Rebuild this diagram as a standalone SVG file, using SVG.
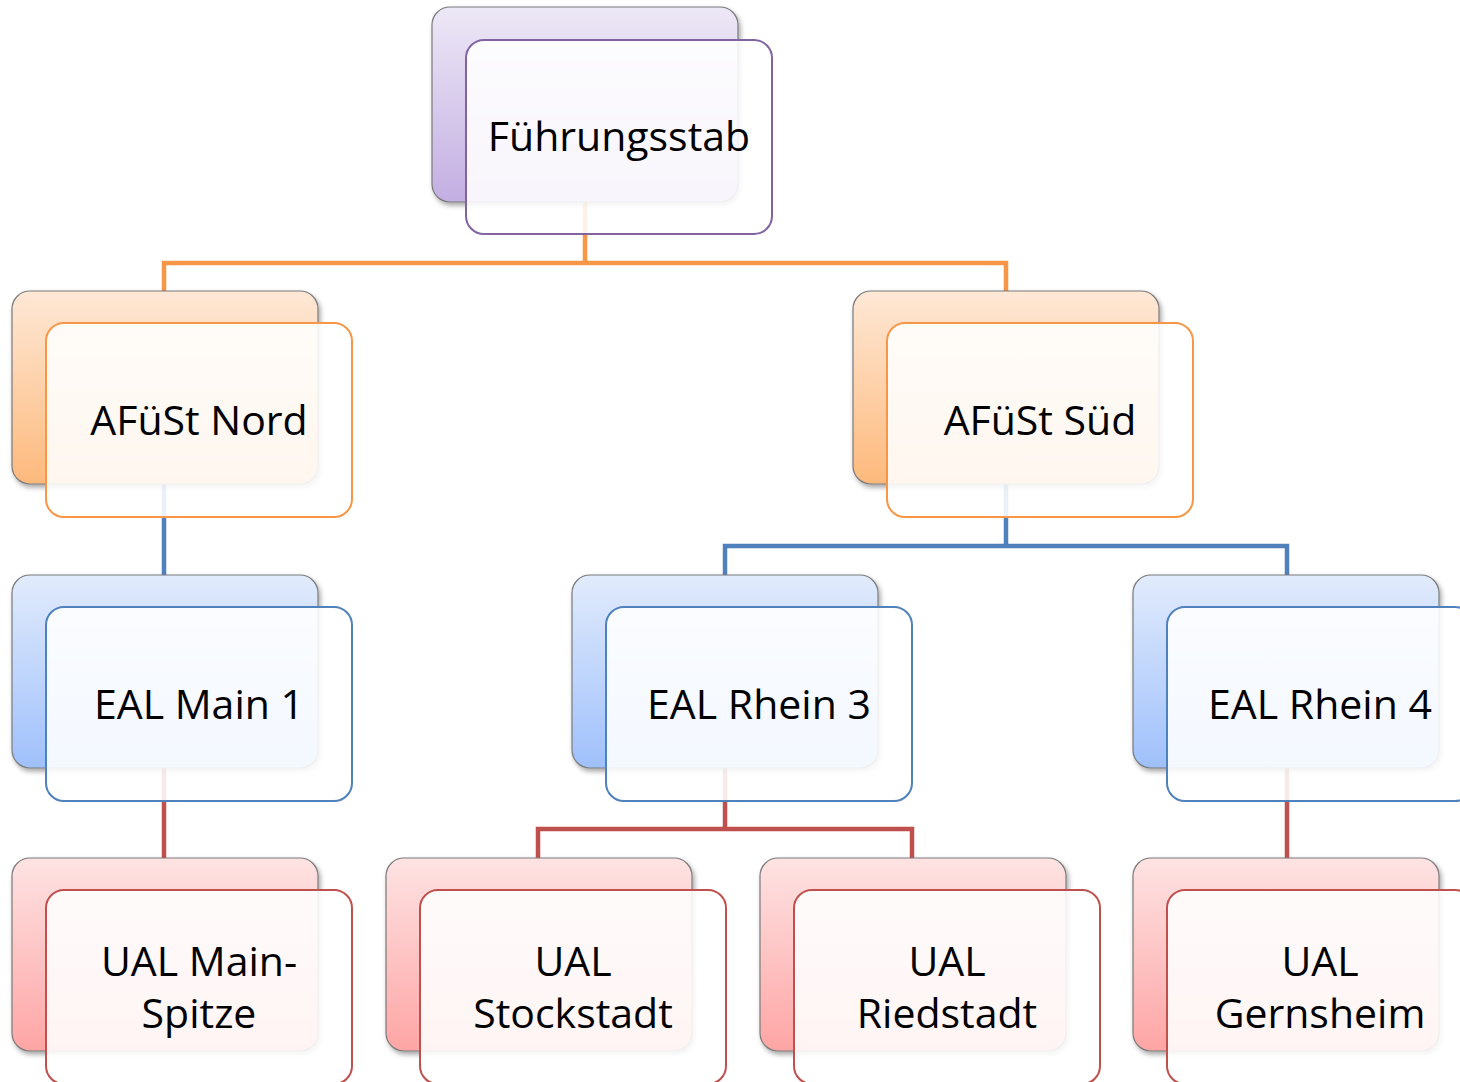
<svg xmlns="http://www.w3.org/2000/svg" width="1460" height="1082" viewBox="0 0 1460 1082">
<defs>
<linearGradient id="gP" x1="0" y1="0" x2="0" y2="1"><stop offset="0" stop-color="#ede8f6"/><stop offset="1" stop-color="#c3aee2"/></linearGradient>
<linearGradient id="gO" x1="0" y1="0" x2="0" y2="1"><stop offset="0" stop-color="#fee8d6"/><stop offset="1" stop-color="#fdb97c"/></linearGradient>
<linearGradient id="gB" x1="0" y1="0" x2="0" y2="1"><stop offset="0" stop-color="#e1ebfc"/><stop offset="1" stop-color="#9fc0fb"/></linearGradient>
<linearGradient id="gR" x1="0" y1="0" x2="0" y2="1"><stop offset="0" stop-color="#fee3e3"/><stop offset="1" stop-color="#fea5a5"/></linearGradient>
<filter id="sh" x="-10%" y="-10%" width="125%" height="125%"><feDropShadow dx="2" dy="3" stdDeviation="2.5" flood-color="#000" flood-opacity="0.35"/></filter>
</defs>
<style>
.back{stroke:#7a7a7a;stroke-width:1.2;filter:url(#sh)}
.front{fill:#fff;fill-opacity:0.88;stroke-width:2}
.p .back{fill:url(#gP)} .p .front{stroke:#8064a2}
.o .back{fill:url(#gO)} .o .front{stroke:#f79646}
.b .back{fill:url(#gB)} .b .front{stroke:#4f81bd}
.r .back{fill:url(#gR)} .r .front{stroke:#c0504d}
text{font-family:"Open Sans","Noto Sans","Liberation Sans",sans-serif;font-size:41px;fill:#000;text-anchor:middle}
.c{fill:none;stroke-width:4.5}
</style>
<g id="connectors">
<path class="c" stroke="#f79646" d="M585 202V263M164 291V263H1006V291"/>
<path class="c" stroke="#4f81bd" d="M164 484V575M1006 484V546M725 575V546H1287V575"/>
<path class="c" stroke="#c0504d" d="M164 768V858M725 768V829M538 858V829H912V858M1287 768V858"/>
</g>
<g id="n-fuehrungsstab" class="p">
<rect class="back" x="432" y="7" width="306" height="195" rx="18"/>
<rect class="front" x="466" y="40" width="306" height="194" rx="18"/>
<text x="619" y="151">Führungsstab</text>
</g>
<g id="n-afuest-nord" class="o">
<rect class="back" x="12" y="291" width="306" height="193" rx="18"/>
<rect class="front" x="46" y="323" width="306" height="194" rx="18"/>
<text x="199" y="435">AFüSt Nord</text>
</g>
<g id="n-afuest-sued" class="o">
<rect class="back" x="853" y="291" width="306" height="193" rx="18"/>
<rect class="front" x="887" y="323" width="306" height="194" rx="18"/>
<text x="1040" y="435">AFüSt Süd</text>
</g>
<g id="n-eal-main-1" class="b">
<rect class="back" x="12" y="575" width="306" height="193" rx="18"/>
<rect class="front" x="46" y="607" width="306" height="194" rx="18"/>
<text x="199" y="719">EAL Main 1</text>
</g>
<g id="n-eal-rhein-3" class="b">
<rect class="back" x="572" y="575" width="306" height="193" rx="18"/>
<rect class="front" x="606" y="607" width="306" height="194" rx="18"/>
<text x="759" y="719">EAL Rhein 3</text>
</g>
<g id="n-eal-rhein-4" class="b">
<rect class="back" x="1133" y="575" width="306" height="193" rx="18"/>
<rect class="front" x="1167" y="607" width="306" height="194" rx="18"/>
<text x="1320" y="719">EAL Rhein 4</text>
</g>
<g id="n-ual-main-spitze" class="r">
<rect class="back" x="12" y="858" width="306" height="193" rx="18"/>
<rect class="front" x="46" y="890" width="306" height="194" rx="18"/>
<text x="199" y="976">UAL Main-</text>
<text x="199" y="1028">Spitze</text>
</g>
<g id="n-ual-stockstadt" class="r">
<rect class="back" x="386" y="858" width="306" height="193" rx="18"/>
<rect class="front" x="420" y="890" width="306" height="194" rx="18"/>
<text x="573" y="976">UAL</text>
<text x="573" y="1028">Stockstadt</text>
</g>
<g id="n-ual-riedstadt" class="r">
<rect class="back" x="760" y="858" width="306" height="193" rx="18"/>
<rect class="front" x="794" y="890" width="306" height="194" rx="18"/>
<text x="947" y="976">UAL</text>
<text x="947" y="1028">Riedstadt</text>
</g>
<g id="n-ual-gernsheim" class="r">
<rect class="back" x="1133" y="858" width="306" height="193" rx="18"/>
<rect class="front" x="1167" y="890" width="306" height="194" rx="18"/>
<text x="1320" y="976">UAL</text>
<text x="1320" y="1028">Gernsheim</text>
</g>
</svg>
